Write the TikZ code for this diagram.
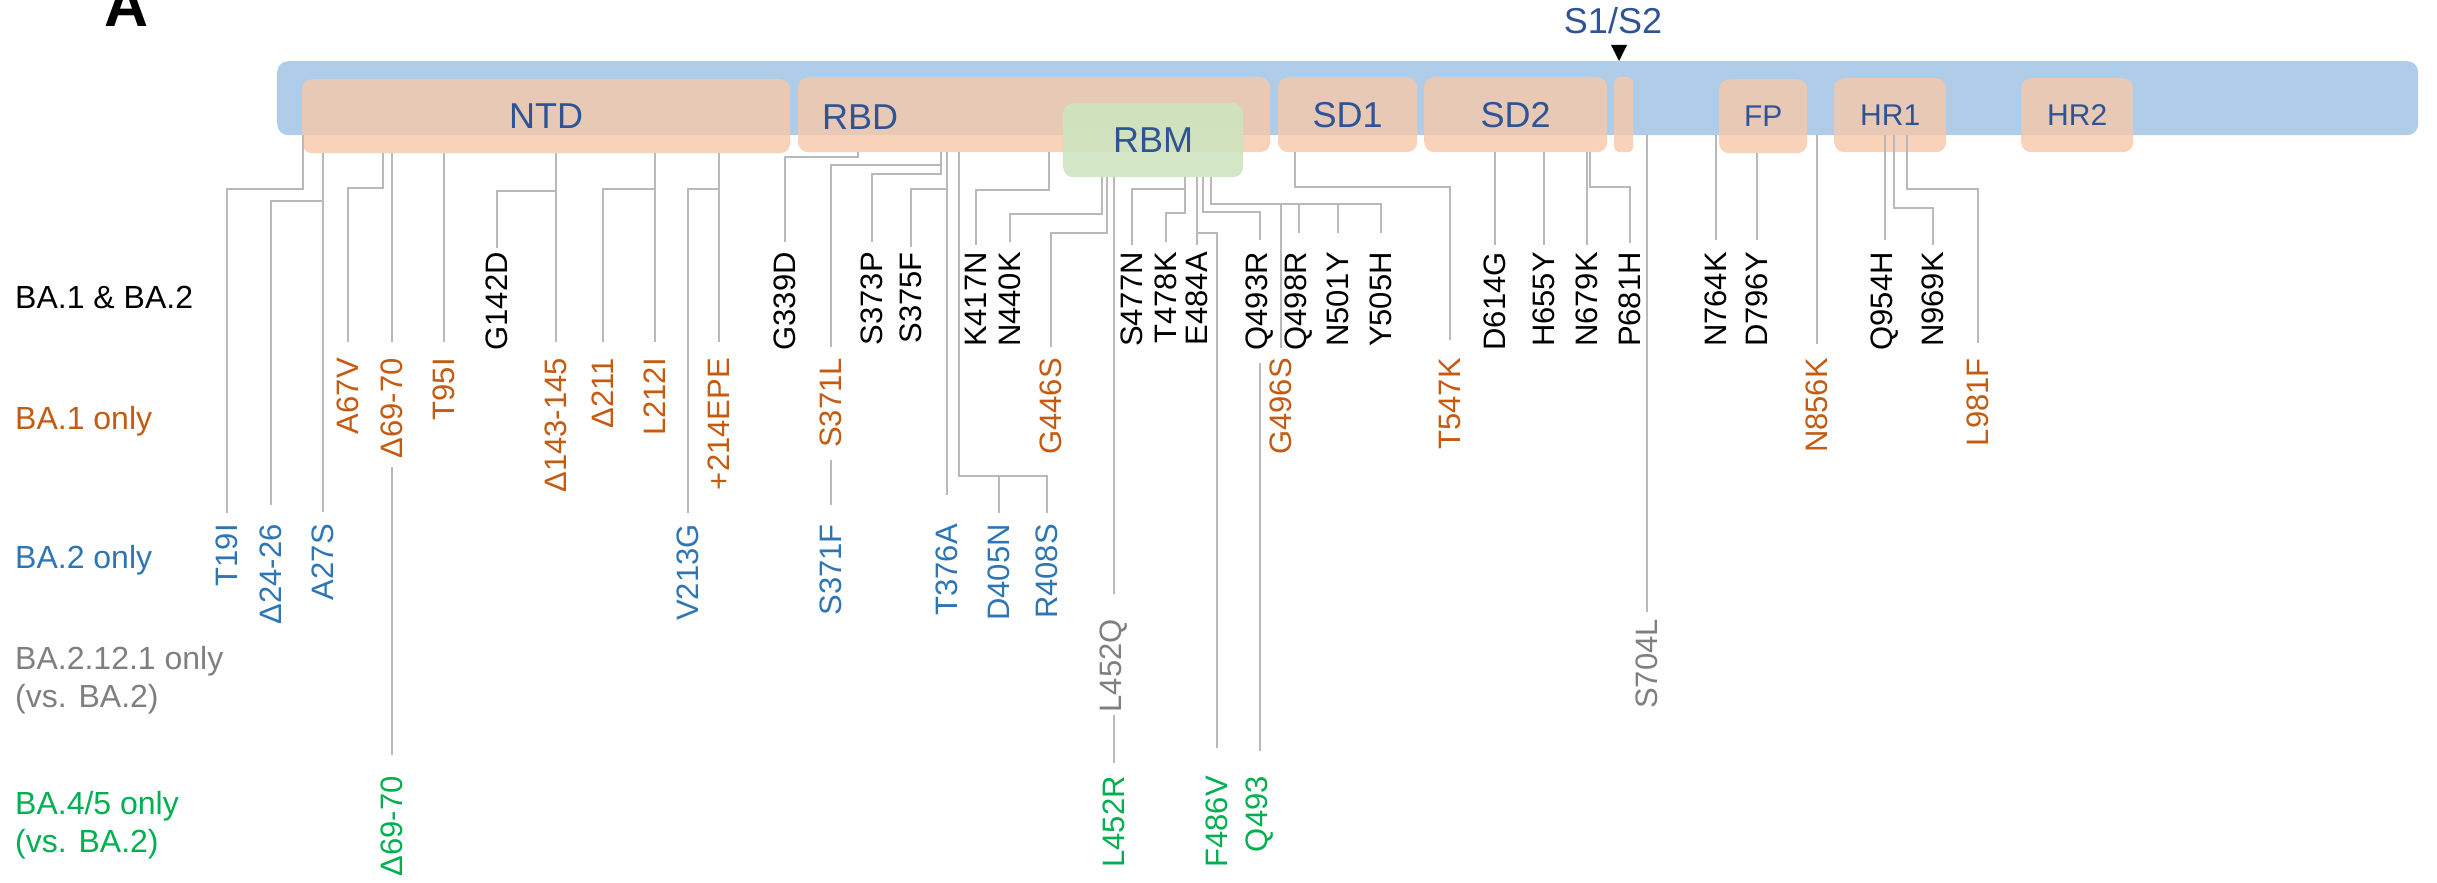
\documentclass[tikz,border=0pt]{standalone}
\usepackage{fontspec}
\setmainfont{Liberation Sans}
\definecolor{barc}{RGB}{175,205,233}
\definecolor{domc}{RGB}{246,200,168}
\definecolor{rbmc}{RGB}{206,228,192}
\definecolor{domtxt}{RGB}{47,84,150}
\definecolor{orc}{RGB}{197,90,17}
\definecolor{blc}{RGB}{46,117,182}
\definecolor{grc}{RGB}{127,127,127}
\definecolor{gnc}{RGB}{0,176,80}
\definecolor{connc}{RGB}{185,185,185}
\tikzset{
  bx/.style={anchor=north west, inner sep=0pt, rounded corners=10pt, fill=domc, fill opacity=0.8, text opacity=1, text=domtxt, font=\fontsize{36}{36}\selectfont},
  bxs/.style={bx, font=\fontsize{30}{30}\selectfont},
  lab/.style={rotate=90, anchor=east, inner sep=0pt, font=\fontsize{31}{31}\selectfont},
  conn/.style={draw=connc, line width=1.6pt},
  rowlab/.style={anchor=base west, inner sep=0pt, font=\fontsize{32}{38}\selectfont},
  rowlab2/.style={anchor=north west, inner sep=0pt, align=left, font=\fontsize{32}{38}\selectfont},
}
\begin{document}
\begin{tikzpicture}[x=1pt, y=-1pt]
\useasboundingbox (0,0) rectangle (2437,883);

% panel letter
\node[anchor=base, inner sep=0pt, font=\bfseries\fontsize{61}{61}\selectfont] (panelA) at (127,27) {A};

% protein bar and domains
\node[anchor=north west, inner sep=0pt, minimum width=2141pt, minimum height=74pt, fill=barc, rounded corners=11pt] (bar) at (277,61) {};
\node[bx, minimum width=488pt, minimum height=74pt] (ntd) at (302,79) {NTD};
\node[bx, minimum width=472pt, minimum height=75pt] (rbd) at (798,77) {};
\node[anchor=base west, inner sep=0pt, text=domtxt, font=\fontsize{36}{36}\selectfont] (rbdtxt) at (822,129) {RBD};
\node[bx, minimum width=139pt, minimum height=75pt] (sd1) at (1278,77) {SD1};
\node[bx, minimum width=183pt, minimum height=75pt] (sd2) at (1424,77) {SD2};
\node[bx, rounded corners=5pt, minimum width=19pt, minimum height=75pt] (cleave) at (1614,77) {};
\node[bxs, minimum width=88pt, minimum height=74pt] (fp) at (1719,79) {FP};
\node[bxs, minimum width=112pt, minimum height=74pt] (hr1) at (1834,78) {HR1};
\node[bxs, minimum width=112pt, minimum height=74pt] (hr2) at (2021,78) {HR2};
\node[bx, fill=rbmc, fill opacity=0.9, minimum width=180pt, minimum height=74pt] (rbm) at (1063,103) {RBM};

% S1/S2 site
\node[anchor=base, inner sep=0pt, text=domtxt, font=\fontsize{36}{36}\selectfont] (s1s2) at (1613,34) {S1/S2};
\fill[black] (1611,45) -- (1627,45) -- (1619,61) -- cycle;

% row labels
\node[rowlab] (r1) at (15,308) {BA.1 \& BA.2};
\node[rowlab, text=orc] (r2) at (15,429) {BA.1 only};
\node[rowlab, text=blc] (r3) at (15,568) {BA.2 only};
\node[rowlab2, text=grc] (r4) at (15,646) {BA.2.12.1 only\\(vs. BA.2)};
\node[rowlab2, text=gnc] (r5) at (15,791) {BA.4/5 only\\(vs. BA.2)};

% mutation labels: BA.1 & BA.2 (black)
\node[lab] (G142D) at (497,252) {G142D};
\node[lab] (G339D) at (785,252) {G339D};
\node[lab] (S373P) at (872,252) {S373P};
\node[lab] (S375F) at (911,252) {S375F};
\node[lab] (K417N) at (976,252) {K417N};
\node[lab] (N440K) at (1010,252) {N440K};
\node[lab] (S477N) at (1132,252) {S477N};
\node[lab] (T478K) at (1166,252) {T478K};
\node[lab] (E484A) at (1197,252) {E484A};
\node[lab] (Q493R) at (1260,252) {Q493R};
\node[lab] (Q498R) at (1299,252) {Q498R};
\node[lab] (N501Y) at (1338,252) {N501Y};
\node[lab] (Y505H) at (1381,252) {Y505H};
\node[lab] (D614G) at (1495,252) {D614G};
\node[lab] (H655Y) at (1544,252) {H655Y};
\node[lab] (N679K) at (1587,252) {N679K};
\node[lab] (P681H) at (1630,252) {P681H};
\node[lab] (N764K) at (1716,252) {N764K};
\node[lab] (D796Y) at (1757,252) {D796Y};
\node[lab] (Q954H) at (1885,252) {Q954H};
\node[lab] (N969K) at (1933,252) {N969K};

% BA.1 only (orange)
\node[lab, text=orc] (A67V) at (348,358) {A67V};
\node[lab, text=orc] (d69o) at (392,358) {Δ69-70};
\node[lab, text=orc] (T95I) at (444,358) {T95I};
\node[lab, text=orc] (d143) at (556,358) {Δ143-145};
\node[lab, text=orc] (d211) at (603,358) {Δ211};
\node[lab, text=orc] (L212I) at (655,358) {L212I};
\node[lab, text=orc] (e214) at (719,358) {+214EPE};
\node[lab, text=orc] (S371L) at (831,358) {S371L};
\node[lab, text=orc] (G446S) at (1051,358) {G446S};
\node[lab, text=orc] (G496S) at (1281,358) {G496S};
\node[lab, text=orc] (T547K) at (1450,358) {T547K};
\node[lab, text=orc] (N856K) at (1817,358) {N856K};
\node[lab, text=orc] (L981F) at (1978,358) {L981F};

% BA.2 only (blue)
\node[lab, text=blc] (T19I) at (227,524) {T19I};
\node[lab, text=blc] (d2426) at (271,524) {Δ24-26};
\node[lab, text=blc] (A27S) at (323,524) {A27S};
\node[lab, text=blc] (V213G) at (688,524) {V213G};
\node[lab, text=blc] (S371F) at (831,524) {S371F};
\node[lab, text=blc] (T376A) at (947,524) {T376A};
\node[lab, text=blc] (D405N) at (999,524) {D405N};
\node[lab, text=blc] (R408S) at (1047,524) {R408S};

% BA.2.12.1 only (gray)
\node[lab, text=grc] (L452Q) at (1114,619) {L452Q};
\node[lab, text=grc] (S704L) at (1647,619) {S704L};

% BA.4/5 only (green)
\node[lab, text=gnc] (d69g) at (392,776) {Δ69-70};
\node[lab, text=gnc] (L452R) at (1114,776) {L452R};
\node[lab, text=gnc] (F486V) at (1217,776) {F486V};
\node[lab, text=gnc] (Q493) at (1260,776) {Q493};

% connectors: NTD
\draw[conn] (303,0 |- bar.south) -- (303,189) -| ([yshift=11pt]T19I.east);
\draw[conn] (323,0 |- ntd.south) -- (323,201) -| ([yshift=19pt]d2426.east);
\draw[conn] (323,0 |- ntd.south) -- ([yshift=12pt]A27S.east);
\draw[conn] (383,0 |- ntd.south) -- (383,188) -| ([yshift=16pt]A67V.east);
\draw[conn] (392,0 |- ntd.south) -- ([yshift=16pt]d69o.east);
\draw[conn] ([yshift=-9pt]d69o.west) -- ([yshift=21pt]d69g.east);
\draw[conn] (444,0 |- ntd.south) -- ([yshift=16pt]T95I.east);
\draw[conn] (556,0 |- ntd.south) -- (556,191) -| ([yshift=4pt]G142D.east);
\draw[conn] (556,0 |- ntd.south) -- ([yshift=16pt]d143.east);
\draw[conn] (655,0 |- ntd.south) -- (655,189) -| ([yshift=16pt]d211.east);
\draw[conn] (655,0 |- ntd.south) -- ([yshift=16pt]L212I.east);
\draw[conn] (719,0 |- ntd.south) -- (719,189) -| ([yshift=11pt]V213G.east);
\draw[conn] (719,0 |- ntd.south) -- ([yshift=16pt]e214.east);

% connectors: RBD
\draw[conn] (858,0 |- rbd.south) -- (858,157) -| ([yshift=10pt]G339D.east);
\draw[conn] (941,0 |- rbd.south) -- (941,165) -| ([yshift=11pt]S371L.east);
\draw[conn] ([yshift=-12pt]S371L.west) -- ([yshift=19pt]S371F.east);
\draw[conn] (941,0 |- rbd.south) -- (941,174) -| ([yshift=10pt]S373P.east);
\draw[conn] (947,0 |- rbd.south) -- (947,189) -| ([yshift=5pt]S375F.east);
\draw[conn] (947,0 |- rbd.south) -- ([yshift=29pt]T376A.east);
\draw[conn] (959,0 |- rbd.south) -- (959,476) -| ([yshift=11pt]D405N.east);
\draw[conn] (959,0 |- rbd.south) -- (959,476) -| ([yshift=11pt]R408S.east);
\draw[conn] (1049,0 |- rbd.south) -- (1049,190) -| ([yshift=7pt]K417N.east);

% connectors: RBM
\draw[conn] (1102,0 |- rbm.south) -- (1102,214) -| ([yshift=10pt]N440K.east);
\draw[conn] (1107,0 |- rbm.south) -- (1107,233) -| ([yshift=11pt]G446S.east);
\draw[conn] (1114,0 |- rbm.south) -- ([yshift=25pt]L452Q.east);
\draw[conn] ([yshift=-3pt]L452Q.west) -- ([yshift=13pt]L452R.east);
\draw[conn] (1185,0 |- rbm.south) -- (1185,189) -| ([yshift=7pt]S477N.east);
\draw[conn] (1185,0 |- rbm.south) -- (1185,213) -| ([yshift=10pt]T478K.east);
\draw[conn] (1197,0 |- rbm.south) -- ([yshift=7pt]E484A.east);
\draw[conn] (1197,0 |- rbm.south) -- (1197,233) -| ([yshift=28pt]F486V.east);
\draw[conn] (1203,0 |- rbm.south) -- (1203,212) -| ([yshift=12pt]Q493R.east);
\draw[conn] ([yshift=-12pt]Q493R.west) -- ([yshift=25pt]Q493.east);
\draw[conn] (1211,0 |- rbm.south) -- (1211,204) -| ([yshift=10pt]G496S.east);
\draw[conn] (1211,0 |- rbm.south) -- (1211,204) -| ([yshift=19pt]Q498R.east);
\draw[conn] (1211,0 |- rbm.south) -- (1211,204) -| ([yshift=19pt]N501Y.east);
\draw[conn] (1211,0 |- rbm.south) -- (1211,204) -| ([yshift=19pt]Y505H.east);

% connectors: SD1, SD2
\draw[conn] (1295,0 |- sd1.south) -- (1295,187) -| ([yshift=18pt]T547K.east);
\draw[conn] (1495,0 |- sd2.south) -- ([yshift=7pt]D614G.east);
\draw[conn] (1544,0 |- sd2.south) -- ([yshift=7pt]H655Y.east);
\draw[conn] (1587,0 |- sd2.south) -- ([yshift=7pt]N679K.east);
\draw[conn] (1590,0 |- sd2.south) -- (1590,187) -| ([yshift=9pt]P681H.east);

% connectors: S2
\draw[conn] (1647,0 |- bar.south) -- ([yshift=7pt]S704L.east);
\draw[conn] (1716,0 |- bar.south) -- ([yshift=12pt]N764K.east);
\draw[conn] (1757,0 |- fp.south) -- ([yshift=12pt]D796Y.east);
\draw[conn] (1817,0 |- bar.south) -- ([yshift=14pt]N856K.east);
\draw[conn] (1885,0 |- bar.south) -- ([yshift=12pt]Q954H.east);
\draw[conn] (1894,0 |- bar.south) -- (1894,208) -| ([yshift=7pt]N969K.east);
\draw[conn] (1907,0 |- bar.south) -- (1907,189) -| ([yshift=15pt]L981F.east);
\end{tikzpicture}
\end{document}
